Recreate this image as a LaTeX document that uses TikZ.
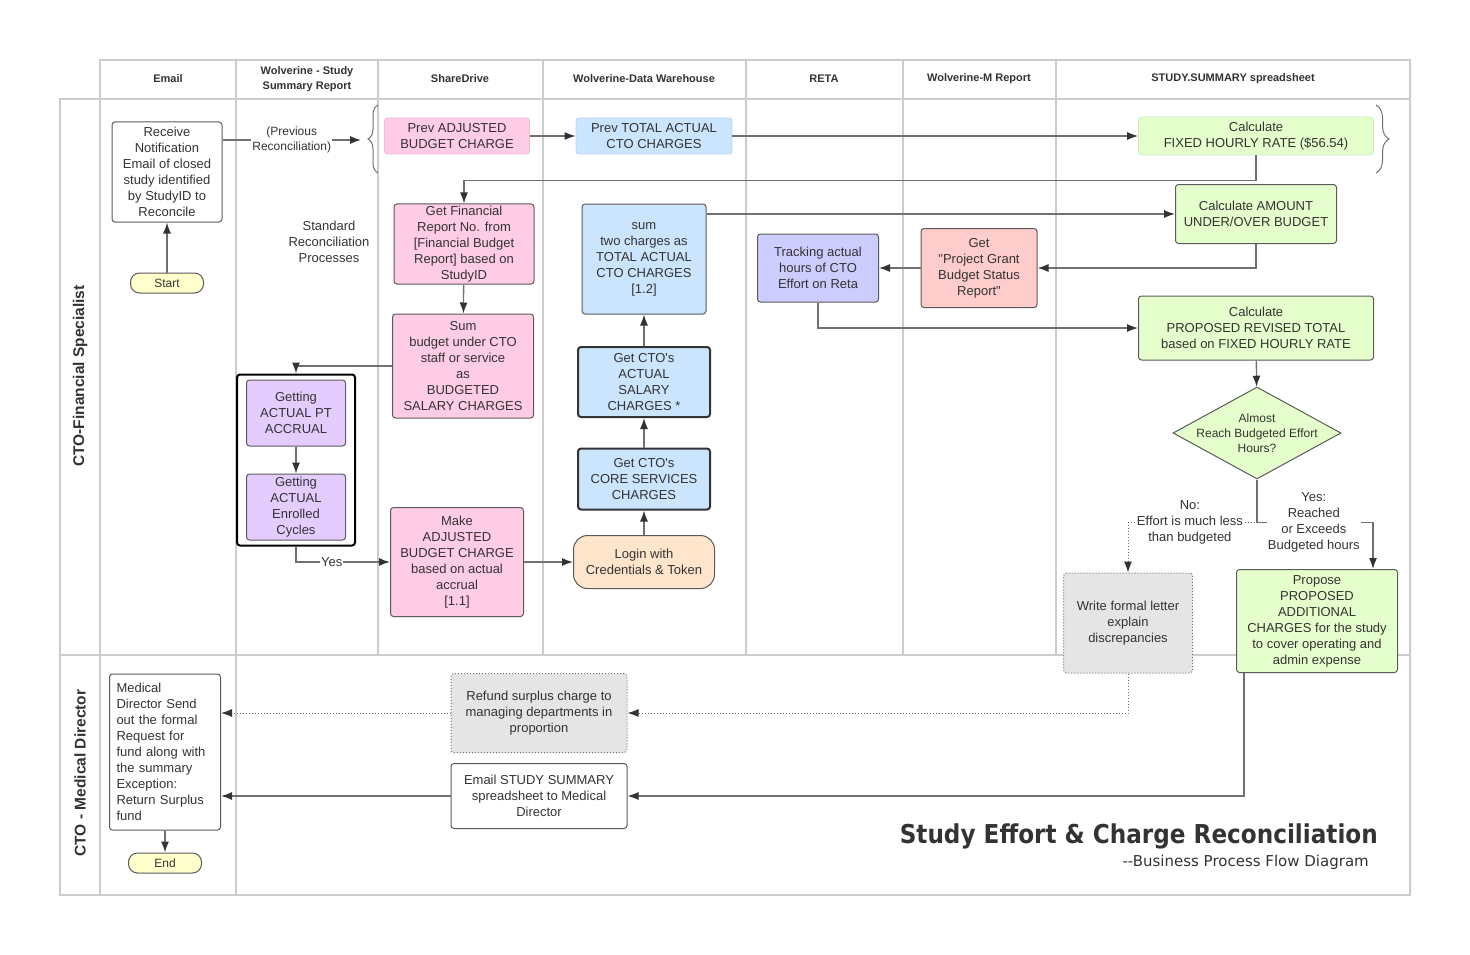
\documentclass[tikz,border=0pt]{standalone}
\usepackage{fontspec}
\setmainfont{Liberation Sans}[Ligatures=TeXOff]
\newfontfamily\titlefont[FakeStretch=0.89]{DejaVu Sans}
\newfontfamily\subtitlefont{DejaVu Sans}
\usepackage{tikz}
\usetikzlibrary{arrows.meta,shapes.geometric,positioning,fit,calc,decorations.pathreplacing}
\usepackage{xcolor}
\definecolor{framegray}{RGB}{204,204,204}
\definecolor{linegray}{RGB}{112,112,112}
\definecolor{tipgray}{RGB}{51,51,51}
\definecolor{textgray}{RGB}{51,51,51}
\definecolor{boxline}{RGB}{90,90,90}
\definecolor{cpink}{RGB}{255,204,229}
\definecolor{cpinkline}{RGB}{240,185,212}
\definecolor{cblue}{RGB}{204,229,255}
\definecolor{cblueline}{RGB}{185,210,240}
\definecolor{cgreen}{RGB}{229,255,204}
\definecolor{cgreenline}{RGB}{210,235,190}
\definecolor{clilac}{RGB}{229,204,255}
\definecolor{cviolet}{RGB}{204,204,255}
\definecolor{csalmon}{RGB}{255,204,204}
\definecolor{cpeach}{RGB}{255,229,204}
\definecolor{cgray}{RGB}{229,229,229}
\definecolor{cyellow}{RGB}{255,255,204}
\newcommand{\boxfont}{\fontsize{13}{16}\selectfont}
\newcommand{\smallfont}{\fontsize{12}{15}\selectfont}
\tikzstyle{lane} = [draw=framegray, line width=1.5pt]
\tikzstyle{header} = [align=center, text=textgray, font=\fontsize{11}{15}\selectfont\bfseries]
\tikzstyle{lanelabel} = [rotate=90, text=textgray, font=\fontsize{15.5}{18}\selectfont\bfseries]
\tikzstyle{process} = [rectangle, rounded corners=3pt, draw=boxline, line width=1pt, text=textgray, align=center, font=\boxfont, inner sep=2pt]
\tikzstyle{soft} = [process, line width=0.8pt]
\tikzstyle{strong} = [process, draw=tipgray, line width=2pt]
\tikzstyle{dotbox} = [process, fill=cgray, dotted, draw=linegray]
\tikzstyle{terminal} = [process, fill=cyellow, rounded corners=9pt, minimum width=73, minimum height=20, font=\smallfont, inner sep=0pt]
\tikzstyle{groupbox} = [draw=black, line width=2pt, rounded corners=3pt, inner xsep=9pt, inner ysep=5pt]
\tikzstyle{smalltext} = [align=center, text=textgray, font=\smallfont, inner sep=1pt]
\tikzstyle{labeltext} = [align=center, text=textgray, font=\fontsize{13}{16}\selectfont, inner sep=1pt]
\tikzstyle{brace} = [decorate, draw=linegray, line width=1pt]
\tikzstyle{arrow} = [line width=1.3pt, draw=linegray, -{Latex[length=11pt,width=8pt,color=tipgray]}]
\tikzstyle{dotarrow} = [arrow, line width=1pt, dotted]

\begin{document}
\begin{tikzpicture}[x=1pt, y=-1pt]
\useasboundingbox (0,0) rectangle (1470,955);
% swimlanes
\draw[lane] (100,60) rectangle (1410,99);
\draw[lane] (60,99) rectangle (1410,655);
\draw[lane] (60,655) rectangle (1410,895);
\draw[lane] (100,99) -- (100,895);
\foreach \x in {236,378,543,746,903,1056} \draw[lane] (\x,60) -- (\x,655);
\draw[lane] (236,655) -- (236,895);

\node[header] (hemail) at (168,79) {Email};
\node[header] (hsummary) at (307,79) {Wolverine - Study\\Summary Report};
\node[header] (hshare) at (460,79) {ShareDrive};
\node[header] (hwarehouse) at (644,79) {Wolverine-Data Warehouse};
\node[header] (hreta) at (824,79) {RETA};
\node[header] (hmreport) at (979,79) {Wolverine-M Report};
\node[header] (hsheet) at (1233,79) {STUDY.SUMMARY spreadsheet};
\node[lanelabel] (lfinance) at (80,376) {CTO-Financial Specialist};
\node[lanelabel] (lmedical) at (80,773) {CTO - Medical Director};

% financial specialist lane
\node (receive) [process, minimum width=110, minimum height=100] at (167,172) {Receive\\Notification\\Email of closed\\study identified\\by StudyID to\\Reconcile};
\node (start) [terminal] at (167,283) {Start};
\node (stdtext) [labeltext] at (329,242) {Standard\\Reconciliation\\Processes};
\node (prevadj) [soft, draw=cpinkline, fill=cpink, minimum width=145, minimum height=36] at (457,136) {Prev ADJUSTED\\BUDGET CHARGE};
\node (prevtotal) [soft, draw=cblueline, fill=cblue, minimum width=156, minimum height=36] at (654,136) {Prev TOTAL ACTUAL\\CTO CHARGES};
\node (calcfixed) [soft, draw=cgreenline, fill=cgreen, minimum width=235, minimum height=38] at (1256,136) {Calculate\\FIXED HOURLY RATE (\$56.54)};
\coordinate (lbrace) at (361,140);
\draw[brace, decoration={brace, amplitude=10pt}] (378,173) -- (378,105);
\draw[brace, decoration={brace, amplitude=13pt}] (1376,105) -- (1376,173);

\node (getfin) [process, fill=cpink, minimum width=140, minimum height=80] at (464,244) {Get Financial\\Report No. from\\{[}Financial Budget\\Report] based on\\StudyID};
\node (sumbudget) [process, fill=cpink, minimum width=141, minimum height=104] at (463,366) {Sum\\budget under CTO\\staff or service\\as\\BUDGETED\\SALARY CHARGES};
\node (ptacc) [process, fill=clilac, minimum width=99, minimum height=66] at (296,413) {Getting\\ACTUAL PT\\ACCRUAL};
\node (enrolled) [process, fill=clilac, minimum width=99, minimum height=66, below=27pt of ptacc] {Getting\\ACTUAL\\Enrolled\\Cycles};
\node (accrual) [groupbox, fit=(ptacc)(enrolled)] {};
\node (makeadj) [process, fill=cpink, minimum width=133, minimum height=109] at (457,562) {Make\\ADJUSTED\\BUDGET CHARGE\\based on actual\\accrual\\{[}1.1]};
\node (login) [process, fill=cpeach, rounded corners=14pt, minimum width=141, minimum height=53] at (644,562) {Login with\\Credentials \& Token};
\node (coreserv) [strong, fill=cblue, minimum width=132, minimum height=61] at (644,479) {Get CTO's\\CORE SERVICES\\CHARGES};
\node (salary) [strong, fill=cblue, minimum width=132, minimum height=70] at (644,382) {Get CTO's\\ACTUAL\\SALARY\\CHARGES *};
\node (sumtwo) [process, fill=cblue, minimum width=124, minimum height=110] at (644,259) {sum\\two charges as\\TOTAL ACTUAL\\CTO CHARGES\\{[}1.2]};
\node (tracking) [process, fill=cviolet, minimum width=121, minimum height=68] at (818,268) {Tracking actual\\hours of CTO\\Effort on Reta};
\node (getproj) [process, fill=csalmon, minimum width=116, minimum height=79] at (979,268) {Get\\"Project Grant\\Budget Status\\Report"};
\node (calcamount) [process, fill=cgreen, minimum width=161, minimum height=59] at (1256,214) {Calculate AMOUNT\\UNDER/OVER BUDGET};
\node (calcproposed) [process, fill=cgreen, minimum width=235, minimum height=64] at (1256,328) {Calculate\\PROPOSED REVISED TOTAL\\based on FIXED HOURLY RATE};
\node (dec) [diamond, draw=boxline, fill=cgreen, line width=1pt, minimum width=168, minimum height=92, inner sep=0pt] at (1257,433) {};
\node (dectext) [smalltext] at (dec.center) {Almost\\Reach Budgeted Effort\\Hours?};
\node (letter) [dotbox, minimum width=129, minimum height=100] at (1128,623) {Write formal letter\\explain\\discrepancies};
\node (propose) [process, fill=cgreen, minimum width=161, minimum height=103] at (1317,621) {Propose\\PROPOSED\\ADDITIONAL\\CHARGES for the study\\to cover operating and\\admin expense};

% medical director lane
\node (refund) [dotbox, minimum width=176, minimum height=79] at (539,713) {Refund surplus charge to\\managing departments in\\proportion};
\node (emailsum) [process, minimum width=176, minimum height=65] at (539,796) {Email STUDY SUMMARY\\spreadsheet to Medical\\Director};
\node (meddir) [process, align=left, text width=97, inner xsep=7pt, minimum height=156] at (165,752) {Medical\\Director Send\\out the formal\\Request for\\fund along with\\the summary\\Exception:\\Return Surplus\\fund};
\node (end) [terminal] at (165,863) {End};

\node (title) [anchor=east, inner sep=0pt, text=textgray, font=\titlefont\fontsize{26}{30}\selectfont\bfseries] at (1378,836) {Study Effort \& Charge Reconciliation};
\node (subtitle) [anchor=east, inner sep=0pt, text=textgray, font=\subtitlefont\fontsize{15}{18}\selectfont] at (1369,862) {--Business Process Flow Diagram};

% connectors
\draw[arrow] (start) -- (receive);
\draw[arrow] (receive.east |- lbrace) -- node[smalltext, fill=white] (prevtext) {(Previous\\Reconciliation)} (lbrace);
\draw[arrow] (prevadj) -- (prevtotal);
\draw[arrow] (prevtotal) -- (calcfixed);
\draw[arrow] (calcfixed.south) -- ++(0,25) -| (getfin.north);
\draw[arrow] (getfin) -- (sumbudget);
\draw[arrow] (sumbudget.west) -| (accrual.north);
\draw[arrow] (ptacc) -- (enrolled);
\draw[arrow] (accrual.south) |- node[pos=0.69, labeltext, fill=white] (yestext) {Yes} (makeadj.west);
\draw[arrow] (makeadj) -- (login);
\draw[arrow] (login) -- (coreserv);
\draw[arrow] (coreserv) -- (salary);
\draw[arrow] (salary) -- (sumtwo);
\draw[arrow] (sumtwo.east |- calcamount.west) -- (calcamount.west);
\draw[arrow] (calcamount.south) |- (getproj.east);
\draw[arrow] (getproj) -- (tracking);
\draw[arrow] (tracking.south) |- (calcproposed.west);
\draw[arrow] (calcproposed) -- (dec);
\draw[dotarrow] (dec.south) -- ++(0,43) -| node[pos=0.26, labeltext, fill=white] (notext) {No:\\Effort is much less\\than budgeted} (letter.north);
\draw[arrow] (dec.south) -- ++(0,43) -| node[pos=0.245, labeltext, fill=white] (reachtext) {Yes:\\Reached\\or Exceeds\\Budgeted hours} ($(propose.north east)+(-25,0)$);
\draw[dotarrow] (letter.south) |- (refund.east);
\draw[dotarrow] (refund.west) -- (meddir.east |- refund.west);
\draw[arrow] ($(propose.south west)+(8,0)$) |- (emailsum.east);
\draw[arrow] (emailsum.west) -- (meddir.east |- emailsum.west);
\draw[arrow] (meddir) -- (end);
\end{tikzpicture}
\end{document}
